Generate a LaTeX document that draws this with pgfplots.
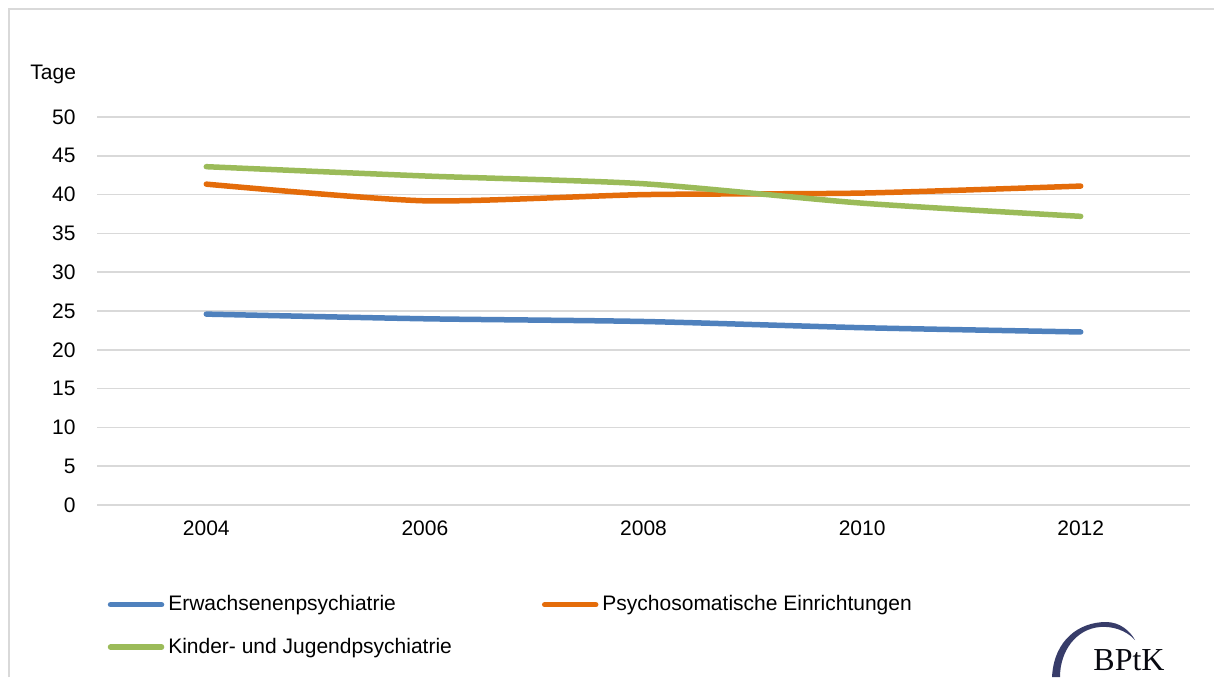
\documentclass[border=0pt]{standalone}
\usepackage{pgfplots}
\pgfplotsset{compat=1.18}
\usepackage{fontspec}
\setmainfont{Liberation Sans}
\newfontfamily\logofont{Liberation Serif}
\definecolor{cblue}{RGB}{79,129,189}
\definecolor{corange}{RGB}{228,108,10}
\definecolor{cgreen}{RGB}{155,187,89}
\definecolor{cgrid}{RGB}{217,217,217}
\definecolor{cnavy}{RGB}{55,60,105}
\begin{document}
\fontsize{10.5}{12.6}\selectfont
\begin{tikzpicture}
\path[use as bounding box] (0,0) rectangle (607pt,338.5pt);
\draw[cgrid, line width=0.75pt] (4.5pt,0) -- (4.5pt,334pt) -- (607pt,334pt);
\begin{axis}[
  at={(48.5pt,86pt)}, anchor=south west,
  scale only axis, width=546.5pt, height=194pt,
  xmin=2003, xmax=2013, ymin=0, ymax=50,
  xtick={2004,2006,2008,2010,2012},
  ytick={0,5,...,50},
  xticklabel style={/pgf/number format/1000 sep={}, yshift=-4pt},
  yticklabel style={xshift=-7pt},
  /pgf/number format/assume math mode=true,
  ticklabel style={font=\fontsize{10.5}{12.6}\selectfont},
  major tick length=0pt,
  axis line style={draw=none},
  ymajorgrids, grid style={cgrid, line width=0.75pt},
  legend columns=2,
  legend cell align=left,
  legend style={draw=none, fill=none, inner sep=0pt,
    at={(0.0095,-0.222)}, anchor=north west,
    font=\fontsize{10.5}{12.6}\selectfont,
    row sep=8pt,
    /tikz/every even column/.append style={column sep=43pt}},
  legend image code/.code={\draw[#1, line cap=round] (0pt,0pt) -- (25.5pt,0pt);},
  every axis plot/.append style={line width=2.75pt, line cap=round, smooth, tension=0.4},
  clip=false,
]
\addplot[cblue] coordinates {(2004,24.6) (2006,24.0) (2008,23.65) (2010,22.85) (2012,22.3)};
\addlegendentry{Erwachsenenpsychiatrie}
\addplot[corange] coordinates {(2004,41.35) (2006,39.2) (2008,40.0) (2010,40.2) (2012,41.1)};
\addlegendentry{Psychosomatische Einrichtungen}
\addplot[cgreen] coordinates {(2004,43.6) (2006,42.4) (2008,41.4) (2010,38.9) (2012,37.2)};
\addlegendentry{Kinder- und Jugendpsychiatrie}
\end{axis}
\node[anchor=base west, inner sep=0pt] at (15pt,299pt) {Tage};
\fill[cnavy] (526pt,0pt) .. controls (527pt,19pt) and (540pt,27.5pt) .. (553pt,27.5pt)
  .. controls (560pt,27.5pt) and (565pt,23pt) .. (567.5pt,18.5pt)
  .. controls (563pt,23.5pt) and (556pt,25.5pt) .. (550pt,25pt)
  .. controls (538pt,24pt) and (530pt,13pt) .. (530pt,0pt) -- cycle;
\node[anchor=base west, inner sep=0pt, text=black!85!cnavy] at (546.5pt,3.5pt) {\logofont\fontsize{16}{18}\selectfont BPtK};
\end{tikzpicture}
\end{document}
